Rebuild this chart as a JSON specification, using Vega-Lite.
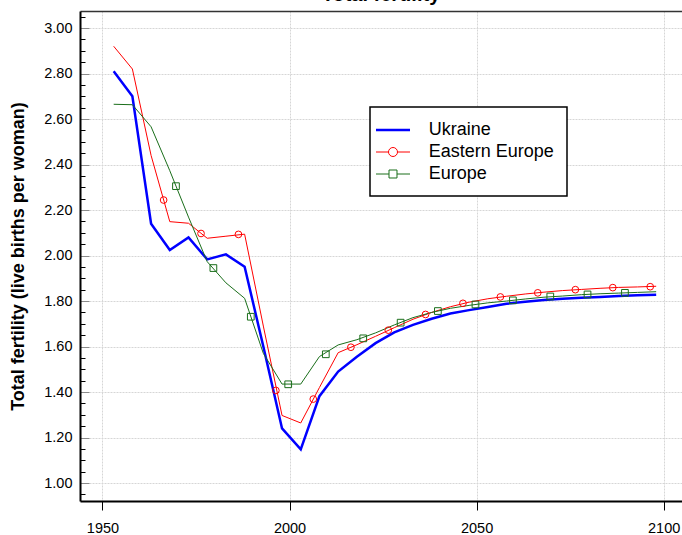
{
  "$schema": "https://vega.github.io/schema/vega-lite/v6.json",
  "autosize": {"type": "none"},
  "padding": {"left": 80, "top": 11, "right": 0, "bottom": 34},
  "width": 602,
  "height": 490,
  "background": "white",
  "title": {"text": "Total fertility", "font": "Liberation Sans", "fontSize": 20, "fontWeight": "bold", "color": "black", "anchor": "middle", "baseline": "alphabetic", "offset": 0, "dy": 12},
  "config": {
    "view": {"stroke": null},
    "axis": {"labelFont": "Liberation Sans", "titleFont": "Liberation Sans", "labelColor": "black", "titleColor": "black"}
  },
  "datasets": {
    "lines": [
      {"series": "Ukraine", "year": 1953, "value": 2.81},
      {"series": "Ukraine", "year": 1958, "value": 2.70},
      {"series": "Ukraine", "year": 1963, "value": 2.14},
      {"series": "Ukraine", "year": 1968, "value": 2.024},
      {"series": "Ukraine", "year": 1973, "value": 2.08},
      {"series": "Ukraine", "year": 1978, "value": 1.983},
      {"series": "Ukraine", "year": 1983, "value": 2.005},
      {"series": "Ukraine", "year": 1988, "value": 1.951},
      {"series": "Ukraine", "year": 1993, "value": 1.60},
      {"series": "Ukraine", "year": 1998, "value": 1.24},
      {"series": "Ukraine", "year": 2003, "value": 1.148},
      {"series": "Ukraine", "year": 2008, "value": 1.382},
      {"series": "Ukraine", "year": 2013, "value": 1.49},
      {"series": "Ukraine", "year": 2018, "value": 1.555},
      {"series": "Ukraine", "year": 2023, "value": 1.615},
      {"series": "Ukraine", "year": 2028, "value": 1.662},
      {"series": "Ukraine", "year": 2033, "value": 1.695},
      {"series": "Ukraine", "year": 2038, "value": 1.722},
      {"series": "Ukraine", "year": 2043, "value": 1.745},
      {"series": "Ukraine", "year": 2048, "value": 1.760},
      {"series": "Ukraine", "year": 2053, "value": 1.774},
      {"series": "Ukraine", "year": 2058, "value": 1.788},
      {"series": "Ukraine", "year": 2063, "value": 1.797},
      {"series": "Ukraine", "year": 2068, "value": 1.805},
      {"series": "Ukraine", "year": 2073, "value": 1.810},
      {"series": "Ukraine", "year": 2078, "value": 1.814},
      {"series": "Ukraine", "year": 2083, "value": 1.818},
      {"series": "Ukraine", "year": 2088, "value": 1.822},
      {"series": "Ukraine", "year": 2093, "value": 1.825},
      {"series": "Ukraine", "year": 2098, "value": 1.828},
      {"series": "Eastern Europe", "year": 1953, "value": 2.92},
      {"series": "Eastern Europe", "year": 1958, "value": 2.82},
      {"series": "Eastern Europe", "year": 1963, "value": 2.44},
      {"series": "Eastern Europe", "year": 1968, "value": 2.149},
      {"series": "Eastern Europe", "year": 1973, "value": 2.142},
      {"series": "Eastern Europe", "year": 1978, "value": 2.076},
      {"series": "Eastern Europe", "year": 1983, "value": 2.085},
      {"series": "Eastern Europe", "year": 1988, "value": 2.094},
      {"series": "Eastern Europe", "year": 1993, "value": 1.69},
      {"series": "Eastern Europe", "year": 1998, "value": 1.297},
      {"series": "Eastern Europe", "year": 2003, "value": 1.264},
      {"series": "Eastern Europe", "year": 2008, "value": 1.42},
      {"series": "Eastern Europe", "year": 2013, "value": 1.573},
      {"series": "Eastern Europe", "year": 2018, "value": 1.608},
      {"series": "Eastern Europe", "year": 2023, "value": 1.645},
      {"series": "Eastern Europe", "year": 2028, "value": 1.683},
      {"series": "Eastern Europe", "year": 2033, "value": 1.72},
      {"series": "Eastern Europe", "year": 2038, "value": 1.75},
      {"series": "Eastern Europe", "year": 2043, "value": 1.775},
      {"series": "Eastern Europe", "year": 2048, "value": 1.795},
      {"series": "Eastern Europe", "year": 2053, "value": 1.81},
      {"series": "Eastern Europe", "year": 2058, "value": 1.821},
      {"series": "Eastern Europe", "year": 2063, "value": 1.831},
      {"series": "Eastern Europe", "year": 2068, "value": 1.839},
      {"series": "Eastern Europe", "year": 2073, "value": 1.846},
      {"series": "Eastern Europe", "year": 2078, "value": 1.851},
      {"series": "Eastern Europe", "year": 2083, "value": 1.856},
      {"series": "Eastern Europe", "year": 2088, "value": 1.86},
      {"series": "Eastern Europe", "year": 2093, "value": 1.862},
      {"series": "Eastern Europe", "year": 2098, "value": 1.865},
      {"series": "Europe", "year": 1953, "value": 2.665},
      {"series": "Europe", "year": 1958, "value": 2.663},
      {"series": "Europe", "year": 1963, "value": 2.566},
      {"series": "Europe", "year": 1968, "value": 2.373},
      {"series": "Europe", "year": 1973, "value": 2.169},
      {"series": "Europe", "year": 1978, "value": 1.973},
      {"series": "Europe", "year": 1983, "value": 1.88},
      {"series": "Europe", "year": 1988, "value": 1.812},
      {"series": "Europe", "year": 1993, "value": 1.57},
      {"series": "Europe", "year": 1998, "value": 1.435},
      {"series": "Europe", "year": 2003, "value": 1.435},
      {"series": "Europe", "year": 2008, "value": 1.556},
      {"series": "Europe", "year": 2013, "value": 1.607},
      {"series": "Europe", "year": 2018, "value": 1.63},
      {"series": "Europe", "year": 2023, "value": 1.66},
      {"series": "Europe", "year": 2028, "value": 1.695},
      {"series": "Europe", "year": 2033, "value": 1.727},
      {"series": "Europe", "year": 2038, "value": 1.75},
      {"series": "Europe", "year": 2043, "value": 1.768},
      {"series": "Europe", "year": 2048, "value": 1.781},
      {"series": "Europe", "year": 2053, "value": 1.792},
      {"series": "Europe", "year": 2058, "value": 1.80},
      {"series": "Europe", "year": 2063, "value": 1.809},
      {"series": "Europe", "year": 2068, "value": 1.817},
      {"series": "Europe", "year": 2073, "value": 1.822},
      {"series": "Europe", "year": 2078, "value": 1.828},
      {"series": "Europe", "year": 2083, "value": 1.832},
      {"series": "Europe", "year": 2088, "value": 1.835},
      {"series": "Europe", "year": 2093, "value": 1.838},
      {"series": "Europe", "year": 2098, "value": 1.841}
    ],
    "markers": [
      {"series": "Eastern Europe", "year": 1966.35, "value": 2.244},
      {"series": "Eastern Europe", "year": 1976.35, "value": 2.097},
      {"series": "Eastern Europe", "year": 1986.35, "value": 2.093},
      {"series": "Eastern Europe", "year": 1996.35, "value": 1.407},
      {"series": "Eastern Europe", "year": 2006.35, "value": 1.369},
      {"series": "Eastern Europe", "year": 2016.4, "value": 1.597},
      {"series": "Eastern Europe", "year": 2026.4, "value": 1.672},
      {"series": "Eastern Europe", "year": 2036.35, "value": 1.741},
      {"series": "Eastern Europe", "year": 2046.35, "value": 1.79},
      {"series": "Eastern Europe", "year": 2056.35, "value": 1.818},
      {"series": "Eastern Europe", "year": 2066.35, "value": 1.836},
      {"series": "Eastern Europe", "year": 2076.4, "value": 1.85},
      {"series": "Eastern Europe", "year": 2086.4, "value": 1.859},
      {"series": "Eastern Europe", "year": 2096.4, "value": 1.863},
      {"series": "Europe", "year": 1969.65, "value": 2.305},
      {"series": "Europe", "year": 1979.65, "value": 1.945},
      {"series": "Europe", "year": 1989.65, "value": 1.731},
      {"series": "Europe", "year": 1999.65, "value": 1.434},
      {"series": "Europe", "year": 2009.7, "value": 1.566},
      {"series": "Europe", "year": 2019.7, "value": 1.636},
      {"series": "Europe", "year": 2029.7, "value": 1.705},
      {"series": "Europe", "year": 2039.65, "value": 1.756},
      {"series": "Europe", "year": 2049.7, "value": 1.785},
      {"series": "Europe", "year": 2059.7, "value": 1.803},
      {"series": "Europe", "year": 2069.7, "value": 1.82},
      {"series": "Europe", "year": 2079.65, "value": 1.829},
      {"series": "Europe", "year": 2089.65, "value": 1.836}
    ]
  },
  "encoding": {
    "y": {
      "field": "value", "type": "quantitative",
      "scale": {"domain": [0.921, 3.075], "nice": false, "zero": false},
      "axis": {
        "orient": "left",
        "title": "Total fertility (live births per woman)",
        "titleFontSize": 18, "titleFontWeight": "bold", "titlePadding": 16,
        "values": [0.95, 1, 1.05, 1.1, 1.15, 1.2, 1.25, 1.3, 1.35, 1.4, 1.45, 1.5, 1.55, 1.6, 1.65, 1.7, 1.75, 1.8, 1.85, 1.9, 1.95, 2, 2.05, 2.1, 2.15, 2.2, 2.25, 2.3, 2.35, 2.4, 2.45, 2.5, 2.55, 2.6, 2.65, 2.7, 2.75, 2.8, 2.85, 2.9, 2.95, 3, 3.05],
        "labelExpr": "abs(datum.value*5 - round(datum.value*5)) < 0.01 ? format(datum.value, '.2f') : ''",
        "labelFontSize": 14.5, "labelPadding": 17, "labelOverlap": false, "labelBound": false,
        "tickSize": {"condition": {"test": "abs(datum.value*5 - round(datum.value*5)) < 0.01", "value": -9}, "value": -5},
        "tickColor": {"condition": {"test": "abs(datum.value*5 - round(datum.value*5)) < 0.01", "value": "#8a8a8a"}, "value": "black"},
        "tickWidth": 1,
        "domainColor": "black", "domainWidth": 2,
        "grid": true, "gridColor": "#d6d6d6", "gridDash": [2, 1], "gridWidth": 1,
        "gridOpacity": {"condition": {"test": "abs(datum.value*5 - round(datum.value*5)) < 0.01", "value": 1}, "value": 0}
      }
    },
    "color": {
      "field": "series", "type": "nominal",
      "scale": {"domain": ["Ukraine", "Eastern Europe", "Europe"], "range": ["#0000ff", "#ff0000", "#1a6e1a"]},
      "legend": {
        "orient": "none", "legendX": 290, "legendY": 96, "title": null, "direction": "vertical",
        "fillColor": "white", "strokeColor": "black", "padding": 13,
        "symbolSize": 289, "symbolStrokeWidth": 1, "symbolOffset": 0, "symbolType": "M-2,0H2",
        "labelFont": "Liberation Sans", "labelFontSize": 18, "labelColor": "black", "labelOffset": 25.7, "labelLimit": 400,
        "rowPadding": 4,
        "encode": {
          "legend": {"update": {"strokeWidth": {"value": 1.5}}},
          "symbols": {"update": {
            "shape": {"signal": "datum.value === 'Ukraine' ? 'M-2.194,0H2.194' : (datum.value === 'Eastern Europe' ? 'M-2,0H-0.53M0.53,0H2M0.53,0A0.53,0.53 0 1 1 -0.53,0A0.53,0.53 0 1 1 0.53,0' : 'M-2,0H-0.47M0.47,0H2M-0.47,-0.47H0.47V0.47H-0.47Z')"},
            "size": {"signal": "datum.value === 'Ukraine' ? 240.25 : 289"},
            "strokeWidth": {"signal": "datum.value === 'Ukraine' ? 2.5 : 1"},
            "fill": {"value": "transparent"},
            "opacity": {"value": 1}
          }}
        }
      }
    }
  },
  "layer": [
    {
      "data": {"name": "lines"},
      "mark": {"type": "line", "strokeJoin": "miter"},
      "encoding": {
        "x": {
          "field": "year", "type": "quantitative",
          "scale": {"domain": [1944.0, 2104.9], "nice": false, "zero": false},
          "axis": {
            "orient": "bottom", "title": null, "values": [1950, 2000, 2050, 2100], "format": "d",
            "labelFontSize": 14.5, "labelPadding": 11, "labelFlush": false, "labelOverlap": false,
            "tickSize": 9, "tickColor": "black", "tickWidth": 1,
            "domainColor": "black", "domainWidth": 2,
            "grid": true, "gridColor": "#d6d6d6", "gridDash": [2, 1], "gridWidth": 1
          }
        },
        "strokeWidth": {
          "field": "series", "type": "ordinal",
          "scale": {"type": "ordinal", "domain": ["Ukraine", "Eastern Europe", "Europe"], "range": [2.5, 1, 1]},
          "legend": null
        }
      }
    },
    {
      "data": {"name": "markers"},
      "mark": {"type": "point", "filled": false, "strokeWidth": 1, "size": 45, "opacity": 1},
      "encoding": {
        "x": {
          "field": "year", "type": "quantitative",
          "axis": {"orient": "top", "title": null, "labels": false, "ticks": false, "grid": false, "domain": true, "domainColor": "#333333", "domainWidth": 1.5}
        },
        "shape": {
          "field": "series", "type": "nominal",
          "scale": {"domain": ["Eastern Europe", "Europe"], "range": ["circle", "square"]},
          "legend": null
        }
      }
    }
  ],
  "resolve": {"axis": {"x": "independent"}}
}
